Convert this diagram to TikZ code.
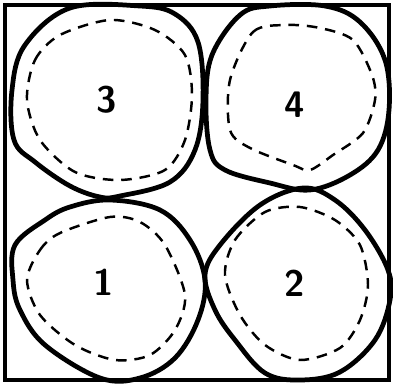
\documentclass[tikz,border=0pt]{standalone}
\usepackage{tikz}

\begin{document}
\begin{tikzpicture}[
      x=0.02cm, y=-0.02cm,
      frame/.style={draw, line width=2.8pt},
      blob/.style={draw, line width=2.7pt, line join=round},
      core/.style={draw, line width=1.4pt, dash pattern=on 6pt off 4.5pt},
      num/.style={font=\sffamily\bfseries\fontsize{21}{25}\selectfont}
    ]
    \useasboundingbox (0,0) rectangle (393,385);
    \draw[frame] (5,5) rectangle (389,380);
    % outer grains
    \draw[blob] plot[smooth cycle, tension=0.6] coordinates {(70,8) (140,6) (175,14) (198,42) (203,100) (195,150) (170,182) (120,196) (100,197) (70,186) (35,162) (14,140) (12,90) (25,45)};
    \draw[blob] plot[smooth cycle, tension=0.6] coordinates {(240,15) (270,6) (325,6) (360,22) (385,60) (389,110) (378,150) (350,175) (310,190) (270,183) (225,170) (210,150) (206,100) (212,55)};
    \draw[blob] plot[smooth cycle, tension=0.6] coordinates {(110,200) (160,210) (190,240) (205,280) (198,320) (175,358) (140,378) (100,378) (45,345) (20,310) (13,280) (15,245) (45,220) (70,207)};
    \draw[blob] plot[smooth cycle, tension=0.6] coordinates {(303,188) (335,200) (365,230) (388,270) (390,300) (375,340) (340,372) (300,380) (265,373) (235,340) (215,310) (205,275) (220,245) (260,205)};
    % inner dashed outlines
    \draw[core] plot[smooth cycle] coordinates {(27,100) (35,60) (60,35) (110,20) (155,30) (185,55) (192,95) (185,140) (165,170) (120,180) (75,172) (40,140)};
    \draw[core] plot[smooth cycle] coordinates {(230,80) (253,32) (286,25) (320,28) (353,40) (372,75) (375,100) (363,133) (333,155) (310,170) (293,165) (250,148) (230,130)};
    \draw[core] plot[smooth cycle] coordinates {(27,280) (40,250) (60,233) (110,217) (140,222) (165,245) (185,295) (175,330) (150,355) (115,360) (75,345) (40,315)};
    \draw[core] plot[smooth cycle] coordinates {(225,275) (235,240) (265,212) (300,207) (335,220) (360,245) (368,285) (360,320) (340,348) (300,360) (265,345) (240,315)};
    % grain numbers
    \node[num] (g3) at (107,100) {3};
    \node[num] (g4) at (295,105) {4};
    \node[num] (g1) at (104,282) {1};
    \node[num] (g2) at (295,283) {2};
\end{tikzpicture}
\end{document}
